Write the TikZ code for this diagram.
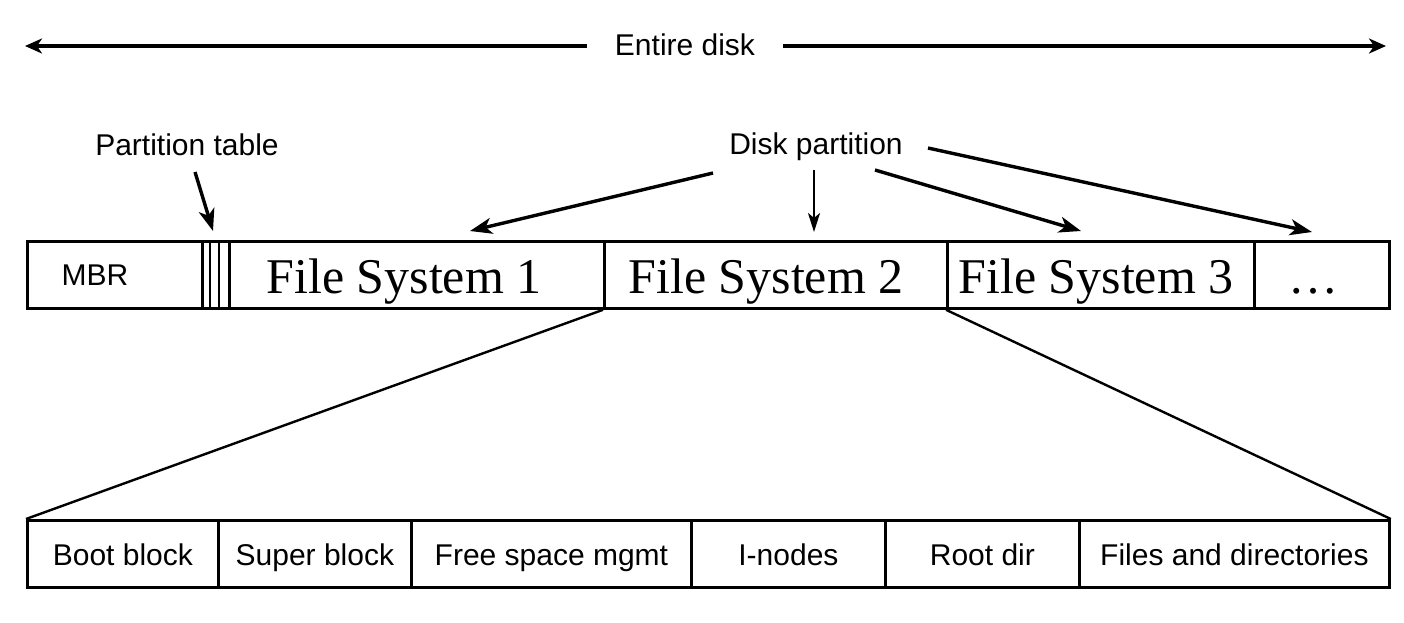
\documentclass[tikz,border=0pt]{standalone}
\usepackage{fontspec}
\setmainfont{Liberation Serif}
\setsansfont{Liberation Sans}
\usetikzlibrary{arrows.meta}
\begin{document}
\begin{tikzpicture}[x=1pt,y=-1pt,
  cell/.style={draw, line width=2.8pt, inner sep=0pt, anchor=north west, minimum height=67pt},
  sans/.style={font=\sffamily\fontsize{30}{32}\selectfont, inner sep=0pt, anchor=base},
  serif/.style={font=\fontsize{50}{52}\selectfont, inner sep=0pt, anchor=base},
  arr/.style={line width=3.4pt, -{Stealth[length=22pt,width=16pt,inset=6pt]}},
  thinarr/.style={line width=2.4pt, -{Stealth[length=19pt,width=12pt,inset=5pt]}},
  dbl/.style={line width=4pt, -{Stealth[length=17pt,width=15pt,inset=5pt]}},
  funnel/.style={line width=2.4pt},
]
\useasboundingbox[fill=white] (0,0) rectangle (1404,622);

% Entire disk
\node[sans, inner xsep=28pt] (ed) at (685,55) {Entire disk};
\coordinate (edl) at (25,46);
\coordinate (edr) at (1386,46);
\draw[dbl] (ed.west |- edl) -- (edl);
\draw[dbl] (ed.east |- edr) -- (edr);

% top bar
\node[cell, minimum width=175pt] (mbr) at (26,240) {};
\node[cell, minimum width=27pt] (pt) at (201,240) {};
\node[cell, minimum width=375pt] (fs1) at (228,240) {};
\node[cell, minimum width=343pt] (fs2) at (603,240) {};
\node[cell, minimum width=307pt] (fs3) at (946,240) {};
\node[cell, minimum width=135pt] (more) at (1253,240) {};
\draw[line width=2.7pt] ([xshift=9pt]pt.north west) -- ([xshift=9pt]pt.south west);
\draw[line width=2.7pt] ([xshift=18pt]pt.north west) -- ([xshift=18pt]pt.south west);

\node[sans] (mbrt) at (95,285) {MBR};
\node[serif] (fs1t) at (404,293) {File System 1};
\node[serif] (fs2t) at (766,293) {File System 2};
\node[serif] (fs3t) at (1096,293) {File System 3};
\node[serif] (moret) at (1313,293) {…};

% labels
\node[sans] (ptl) at (187,155) {Partition table};
\node[sans] (dp) at (816,154) {Disk partition};

\coordinate (pts) at (195,172);
\coordinate (ptt) at (213,231);
\draw[arr] (pts) -- (ptt);

\coordinate (dp1s) at (713,173);
\coordinate (dp1t) at (470,231);
\coordinate (dp2s) at (814,170);
\coordinate (dp2t) at (814,232);
\coordinate (dp3s) at (875,170);
\coordinate (dp3t) at (1081,231);
\coordinate (dp4s) at (928,148);
\coordinate (dp4t) at (1312,232);
\draw[arr] (dp1s) -- (dp1t);
\draw[thinarr] (dp2s) -- (dp2t);
\draw[arr] (dp3s) -- (dp3t);
\draw[arr] (dp4s) -- (dp4t);

% bottom bar
\node[cell, minimum width=191pt] (boot) at (26,519) {};
\node[cell, minimum width=193pt] (super) at (217,519) {};
\node[cell, minimum width=280pt] (free) at (410,519) {};
\node[cell, minimum width=194pt] (inodes) at (690,519) {};
\node[cell, minimum width=194pt] (root) at (884,519) {};
\node[cell, minimum width=310pt] (files) at (1078,519) {};

\node[sans] (boott) at (boot.center |- 0,565) {Boot block};
\node[sans] (supert) at (super.center |- 0,565) {Super block};
\node[sans] (freet) at (free.center |- 0,565) {Free space mgmt};
\node[sans] (inodest) at (inodes.center |- 0,565) {I-nodes};
\node[sans] (roott) at (root.center |- 0,565) {Root dir};
\node[sans] (filest) at (files.center |- 0,565) {Files and directories};

% funnel
\draw[funnel] (fs2.south west) -- (boot.north west);
\draw[funnel] (fs3.south west) -- (files.north east);
\end{tikzpicture}
\end{document}
